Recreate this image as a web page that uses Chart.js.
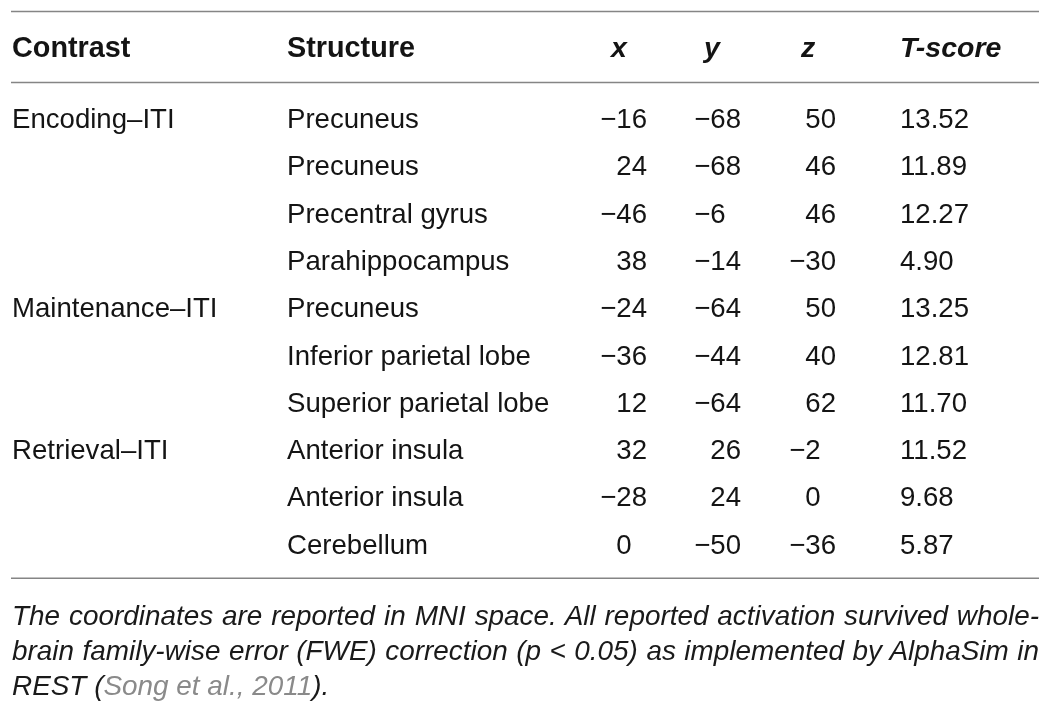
<!DOCTYPE html>
<html>
<head>
<meta charset="utf-8">
<script src="https://cdn.jsdelivr.net/npm/chart.js@4.4.0/dist/chart.umd.min.js"></script>
<style>
    body { margin: 0; background: #fff; }
    #wrap { position: absolute; left: 0; top: 0; width: 1051px; height: 600px; }
    #note { position: absolute; left: 12px; top: 598px; width: 1027px; font: italic 27.9px "Liberation Sans", Arial, sans-serif; color: #1a1a1a; line-height: 35px; }
    #note div { text-align: justify; text-align-last: justify; white-space: nowrap; }
    #note div.last { text-align-last: left; }
    #note .cite { color: #8a8a8a; }
</style>
</head>
<body>
<div id="wrap"><canvas id="myTable"></canvas></div>
<div id="note">
    <div>The coordinates are reported in MNI space. All reported activation survived whole-</div>
    <div>brain family-wise error (FWE) correction (p &lt; 0.05) as implemented by AlphaSim in</div>
    <div class="last">REST (<span class="cite">Song et al., 2011</span>).</div>
</div>
<script>
// Table content
const headers = ['Contrast', 'Structure', 'x', 'y', 'z', 'T-score'];
const contrasts = ['Encoding–ITI', 'Maintenance–ITI', 'Retrieval–ITI'];
const contrastRows = [0, 4, 7];
const structures = ['Precuneus', 'Precuneus', 'Precentral gyrus', 'Parahippocampus', 'Precuneus',
    'Inferior parietal lobe', 'Superior parietal lobe', 'Anterior insula', 'Anterior insula', 'Cerebellum'];
const xCoords = [-16, 24, -46, 38, -24, -36, 12, 32, -28, 0];
const yCoords = [-68, -68, -6, -14, -64, -44, -64, 26, 24, -50];
const zCoords = [50, 46, 46, -30, 50, 40, 62, -2, 0, -36];
const tScores = [13.52, 11.89, 12.27, 4.90, 13.25, 12.81, 11.70, 11.52, 9.68, 5.87];

// Layout (column anchors, rule rows)
const colX = { contrast: 12, structure: 287, x: 647, y: 741, z: 836, t: 900 };
const headX = { x: 619, y: 712, z: 808 };
const headerRow = -1.5;
const ruleRows = [-2.25, -0.75, 9.73];
const body = "27.6px 'Liberation Sans', Arial, sans-serif";
const bold = "bold 28.8px 'Liberation Sans', Arial, sans-serif";
const boldItalic = "italic bold 28.5px 'Liberation Sans', Arial, sans-serif";
const ink = '#141414';

const fmt = v => (v < 0 ? '\u2212' + Math.abs(v) : String(v));
const rows = structures.map((s, i) => i);

function textSet(xPos, yRows, cells, font, align, padSingle) {
    return {
        type: 'scatter',
        data: yRows.map(r => ({ x: xPos, y: r })),
        pointRadius: 0,
        cells: cells, font: font, align: align, padSingle: !!padSingle
    };
}

function rule(r) {
    return {
        type: 'line',
        data: [{ x: 11, y: r }, { x: 1039, y: r }],
        borderColor: '#858585',
        borderWidth: 1.5,
        pointRadius: 0
    };
}

const datasets = [
    ...ruleRows.map(rule),
    textSet(colX.contrast, [headerRow], [headers[0]], bold, 'left'),
    textSet(colX.structure, [headerRow], [headers[1]], bold, 'left'),
    textSet(headX.x, [headerRow], [headers[2]], boldItalic, 'center'),
    textSet(headX.y, [headerRow], [headers[3]], boldItalic, 'center'),
    textSet(headX.z, [headerRow], [headers[4]], boldItalic, 'center'),
    textSet(colX.t, [headerRow], [headers[5]], boldItalic, 'left'),
    textSet(colX.contrast, contrastRows, contrasts, body, 'left'),
    textSet(colX.structure, rows, structures, body, 'left'),
    textSet(colX.x, rows, xCoords.map(fmt), body, 'right', true),
    textSet(colX.y, rows, yCoords.map(fmt), body, 'right', true),
    textSet(colX.z, rows, zCoords.map(fmt), body, 'right', true),
    textSet(colX.t, rows, tScores.map(v => v.toFixed(2)), body, 'left')
];

// draws the cell text at each point the scales placed
const cellText = {
    id: 'cellText',
    afterDatasetsDraw(chart) {
        const ctx = chart.ctx;
        chart.data.datasets.forEach((ds, i) => {
            if (!ds.cells) return;
            const meta = chart.getDatasetMeta(i);
            ctx.save();
            ctx.font = ds.font;
            ctx.fillStyle = ink;
            ctx.textAlign = ds.align;
            ctx.textBaseline = 'alphabetic';
            const digit = ctx.measureText('0').width;
            meta.data.forEach((pt, j) => {
                const t = ds.cells[j];
                const shift = ds.padSingle && t.replace('\u2212', '').length === 1 ? digit : 0;
                ctx.fillText(t, pt.x - shift, pt.y + 10);
            });
            ctx.restore();
        });
    }
};

const config = {
    type: 'scatter',
    data: { datasets: datasets },
    options: {
        responsive: true,
        maintainAspectRatio: false,
        animation: false,
        layout: { padding: 0 },
        plugins: { legend: { display: false }, tooltip: { enabled: false } },
        scales: {
            x: { type: 'linear', min: 0, max: 1051, display: false },
            y: { type: 'linear', reverse: true, min: -2.495, max: 10.19, display: false }
        }
    },
    plugins: [cellText]
};

var myTable = new Chart(document.getElementById('myTable'), config);
</script>
</body>
</html>
